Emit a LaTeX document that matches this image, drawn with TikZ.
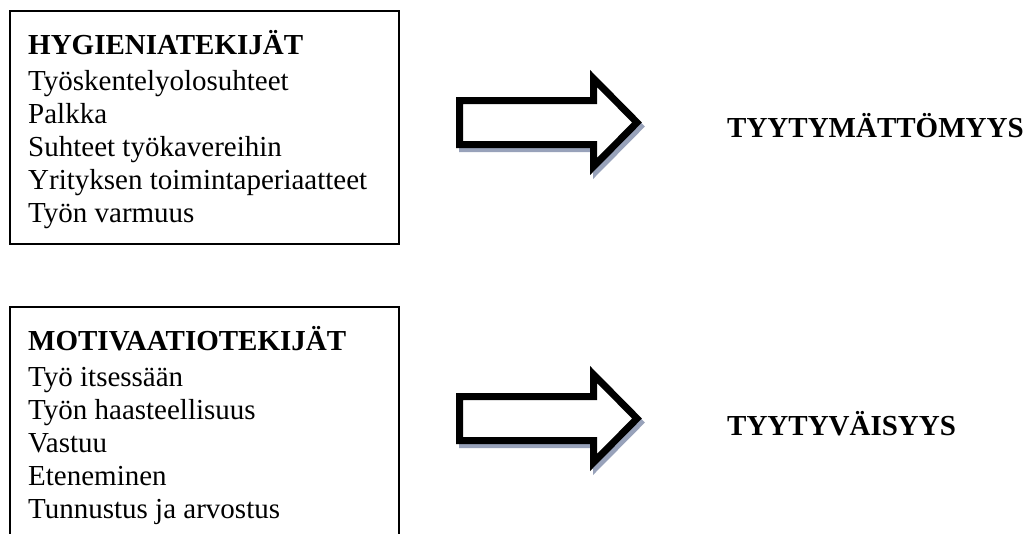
\documentclass[tikz,border=0pt]{standalone}
\usepackage{fontspec}
\setmainfont{Liberation Serif}
\definecolor{shadowblue}{RGB}{152,162,186}
\tikzset{
  factorbox/.style={draw, line width=2pt, minimum width=389pt, minimum height=233pt,
    inner sep=0pt, anchor=north west},
  heading/.style={anchor=base west, inner sep=0pt, font=\fontsize{29}{33}\selectfont\bfseries},
  item/.style={anchor=base west, inner sep=0pt, font=\fontsize{29}{33}\selectfont},
  result/.style={anchor=base west, inner sep=0pt, font=\fontsize{29}{33}\selectfont\bfseries},
  blockarrow/.style={draw=black, fill=white, line width=7pt, miter limit=10},
  arrowshadow/.style={draw=shadowblue, fill=shadowblue, line width=7pt, miter limit=10},
}
\begin{document}
\begin{tikzpicture}[x=1pt, y=-1pt]
  \useasboundingbox (0,0) rectangle (1030,533);

  % factor boxes
  \node[factorbox] (hyg) at (9,10) {};
  \node[factorbox] (mot) at (9,306) {};

  % hygiene factors
  \node[heading] (hyg-h) at (28,54) {HYGIENIATEKIJÄT};
  \node[item] (hyg-1) at (28,90.5) {Työskentelyolosuhteet};
  \node[item] (hyg-2) at (28,123.5) {Palkka};
  \node[item] (hyg-3) at (28,156.5) {Suhteet työkavereihin};
  \node[item] (hyg-4) at (28,189.5) {Yrityksen toimintaperiaatteet};
  \node[item] (hyg-5) at (28,222.5) {Työn varmuus};

  % motivation factors
  \node[heading] (mot-h) at (28,350) {MOTIVAATIOTEKIJÄT};
  \node[item] (mot-1) at (28,386.5) {Työ itsessään};
  \node[item] (mot-2) at (28,419.5) {Työn haasteellisuus};
  \node[item] (mot-3) at (28,452.5) {Vastuu};
  \node[item] (mot-4) at (28,485.5) {Eteneminen};
  \node[item] (mot-5) at (28,518.5) {Tunnustus ja arvostus};

  % block arrows with drop shadow
  \foreach \dy in {0,296} {
    \begin{scope}[shift={(0,\dy)}]
      \draw[arrowshadow, shift={(3,4)}]
        (459.5,100.5) -- (593.5,100.5) -- (593.5,78.5) -- (637,122.5)
        -- (593.5,166.5) -- (593.5,144.5) -- (459.5,144.5) -- cycle;
      \draw[blockarrow]
        (459.5,100.5) -- (593.5,100.5) -- (593.5,78.5) -- (637,122.5)
        -- (593.5,166.5) -- (593.5,144.5) -- (459.5,144.5) -- cycle;
    \end{scope}
  }

  % outcomes
  \node[result] (dissat) at (727,137) {TYYTYMÄTTÖMYYS};
  \node[result] (sat) at (727,435) {TYYTYVÄISYYS};
\end{tikzpicture}
\end{document}
